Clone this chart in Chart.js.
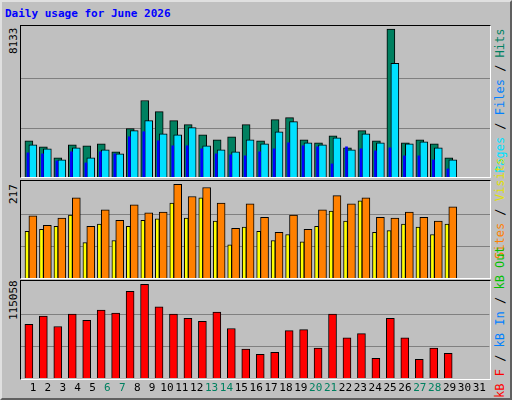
<!DOCTYPE html>
<html>
<head>
<meta charset="utf-8">
<script src="https://cdn.jsdelivr.net/npm/chart.js@4"></script>
<style>
body { margin: 0; }
#wrap { position: relative; width: 508px; height: 396px; background: #c0c0c0;
  border-top: 2px solid #e0e0e0; border-left: 2px solid #e0e0e0;
  border-right: 2px solid #606060; border-bottom: 2px solid #606060;
  font-family: "DejaVu Sans Mono", monospace; }
.panel { position: absolute; left: 18px; width: 469px; border-top: 1px solid #000; border-left: 1px solid #000;
  border-right: 1px solid #fff; border-bottom: 1px solid #fff; }
canvas { position: absolute; }
.rot { position: absolute; transform-origin: 0 0; transform: rotate(-90deg); white-space: nowrap; font-size: 11px; }
#title { position: absolute; left: 3px; top: 5px; color: #0000ff; font-weight: bold; font-size: 11px; }
</style>
</head>
<body>
<div id="wrap">
  <div id="title">Daily usage for June 2026</div>
  <div class="panel" style="top:23px;height:151px"></div>
  <div class="panel" style="top:178px;height:97px"></div>
  <div class="panel" style="top:278px;height:98px"></div>
  <canvas id="c1" style="left:19px;top:24px;width:469px;height:151px"></canvas>
  <canvas id="c2" style="left:19px;top:179px;width:469px;height:97px"></canvas>
  <canvas id="c3" style="left:19px;top:279px;width:469px;height:116px"></canvas>
  <div class="rot" style="left:5px;top:52px">8133</div>
  <div class="rot" style="left:5px;top:202px">217</div>
  <div class="rot" style="left:5px;top:318px">115058</div>
  <div class="rot" style="left:491px;top:171px;font-size:12px"><span style="color:#00e0ff">Pages</span> / <span style="color:#0080ff">Files</span> / <span style="color:#008060">Hits</span></div>
  <div class="rot" style="left:491px;top:257px;font-size:12px"><span style="color:#ff8000">Sites</span> / <span style="color:#e0e000">Visits</span></div>
  <div class="rot" style="left:491px;top:396px;font-size:12px"><span style="color:#ff0000">kB F</span> / <span style="color:#0080ff">kB In</span> / <span style="color:#00c000">kB Out</span></div>
</div>
<script>
let days = [];
for (let d = 1; d <= 31; d++) days.push(d);
let weekend = [6, 7, 13, 14, 20, 21, 27, 28];

let hits = [1992, 1660, 1051, 1770, 1715, 1826, 1383, 2655, 4204, 3596, 3098, 2877, 2323, 2047, 2213, 2877, 1992, 3153, 3264, 2047, 1881, 2268, 1604, 2545, 1992, 8133, 1881, 2047, 1826, 1051];
let files = [1770, 1549, 940, 1604, 1051, 1494, 1272, 2545, 3098, 2379, 2323, 2711, 1715, 1494, 1383, 2047, 1826, 2489, 3043, 1881, 1770, 2157, 1494, 2379, 1881, 6251, 1826, 1936, 1604, 940];
let pages = [1328, 1272, 885, 1383, 774, 1383, 1272, 2213, 2489, 1992, 1715, 1715, 1549, 1272, 1217, 1162, 1383, 1549, 1881, 1715, 1660, 719, 1660, 1549, 1438, 1604, 1162, 1162, 940, 443];
let visits = [108, 113, 120, 146, 82, 125, 87, 120, 134, 137, 174, 139, 186, 132, 77, 118, 108, 87, 101, 84, 120, 155, 132, 179, 106, 110, 125, 118, 101, 125];
let sites = [144, 122, 139, 186, 120, 158, 134, 170, 151, 153, 217, 189, 210, 174, 115, 172, 141, 106, 146, 113, 158, 191, 172, 186, 141, 139, 153, 141, 132, 165];
let kbytes = [65754, 75870, 63225, 78399, 70812, 83457, 79664, 106218, 115058, 87251, 78399, 73341, 69548, 80928, 60696, 35406, 29084, 31613, 58167, 59432, 36671, 78399, 49316, 54374, 24026, 73341, 49316, 22761, 36671, 30348];

function pts(arr, shift) {
  return arr.map((v, i) => ({ x: days[i] + shift, y: v }));
}

function bar(data, color, thick, order, bw) {
  return { data: data, backgroundColor: color, borderColor: "#000", borderWidth: bw,
    barThickness: thick, order: order, grouped: false };
}

function yAxis(max) {
  return {
    min: 0, max: max,
    afterBuildTicks: a => { a.ticks = [{ value: a.max * 0.322 }, { value: a.max * 0.655 }]; },
    afterFit: a => { a.width = 0; },
    ticks: { display: false },
    border: { display: false },
    grid: { color: "#808080", lineWidth: 1, drawTicks: false }
  };
}

function opts(max, extra) {
  let scales = { x: { type: "linear", min: 0.31, max: 32.7, offset: false, display: false }, y: yAxis(max) };
  Object.assign(scales, extra || {});
  return {
    responsive: false, animation: false,
    layout: { padding: 0 },
    plugins: { legend: { display: false }, tooltip: { enabled: false } },
    scales: scales
  };
}

new Chart(document.getElementById("c1"), {
  type: "bar",
  data: { datasets: [
    bar(pts(hits, -0.145), "#008060", 8, 3, 1),
    bar(pts(files, 0.13), "#00e0ff", 8, 2, 1),
    bar(pts(pages, -0.21), "#0000ff", 2, 1, 0)
  ] },
  options: opts(8300)
});

new Chart(document.getElementById("c2"), {
  type: "bar",
  data: { datasets: [
    bar(pts(sites, 0.13), "#ff8000", 8, 2, 1),
    bar(pts(visits, -0.276), "#ffff00", 4, 1, 1)
  ] },
  options: opts(225)
});

new Chart(document.getElementById("c3"), {
  type: "bar",
  data: { datasets: [
    bar(pts(kbytes, -0.145), "#ff0000", 8, 1, 1)
  ] },
  options: opts(119000, {
    xl: {
      type: "linear", position: "bottom", min: 0.19, max: 31.67, offset: false,
      afterBuildTicks: a => { a.ticks = days.map(d => ({ value: d })); },
      afterFit: a => { a.height = 19; },
      border: { display: false },
      grid: { display: false, drawTicks: false },
      ticks: {
        autoSkip: false, maxRotation: 0, padding: 4,
        font: { family: "DejaVu Sans Mono", size: 11 },
        color: c => weekend.includes(c.tick.value) ? "#008060" : "#000"
      }
    }
  })
});
</script>
</body>
</html>
